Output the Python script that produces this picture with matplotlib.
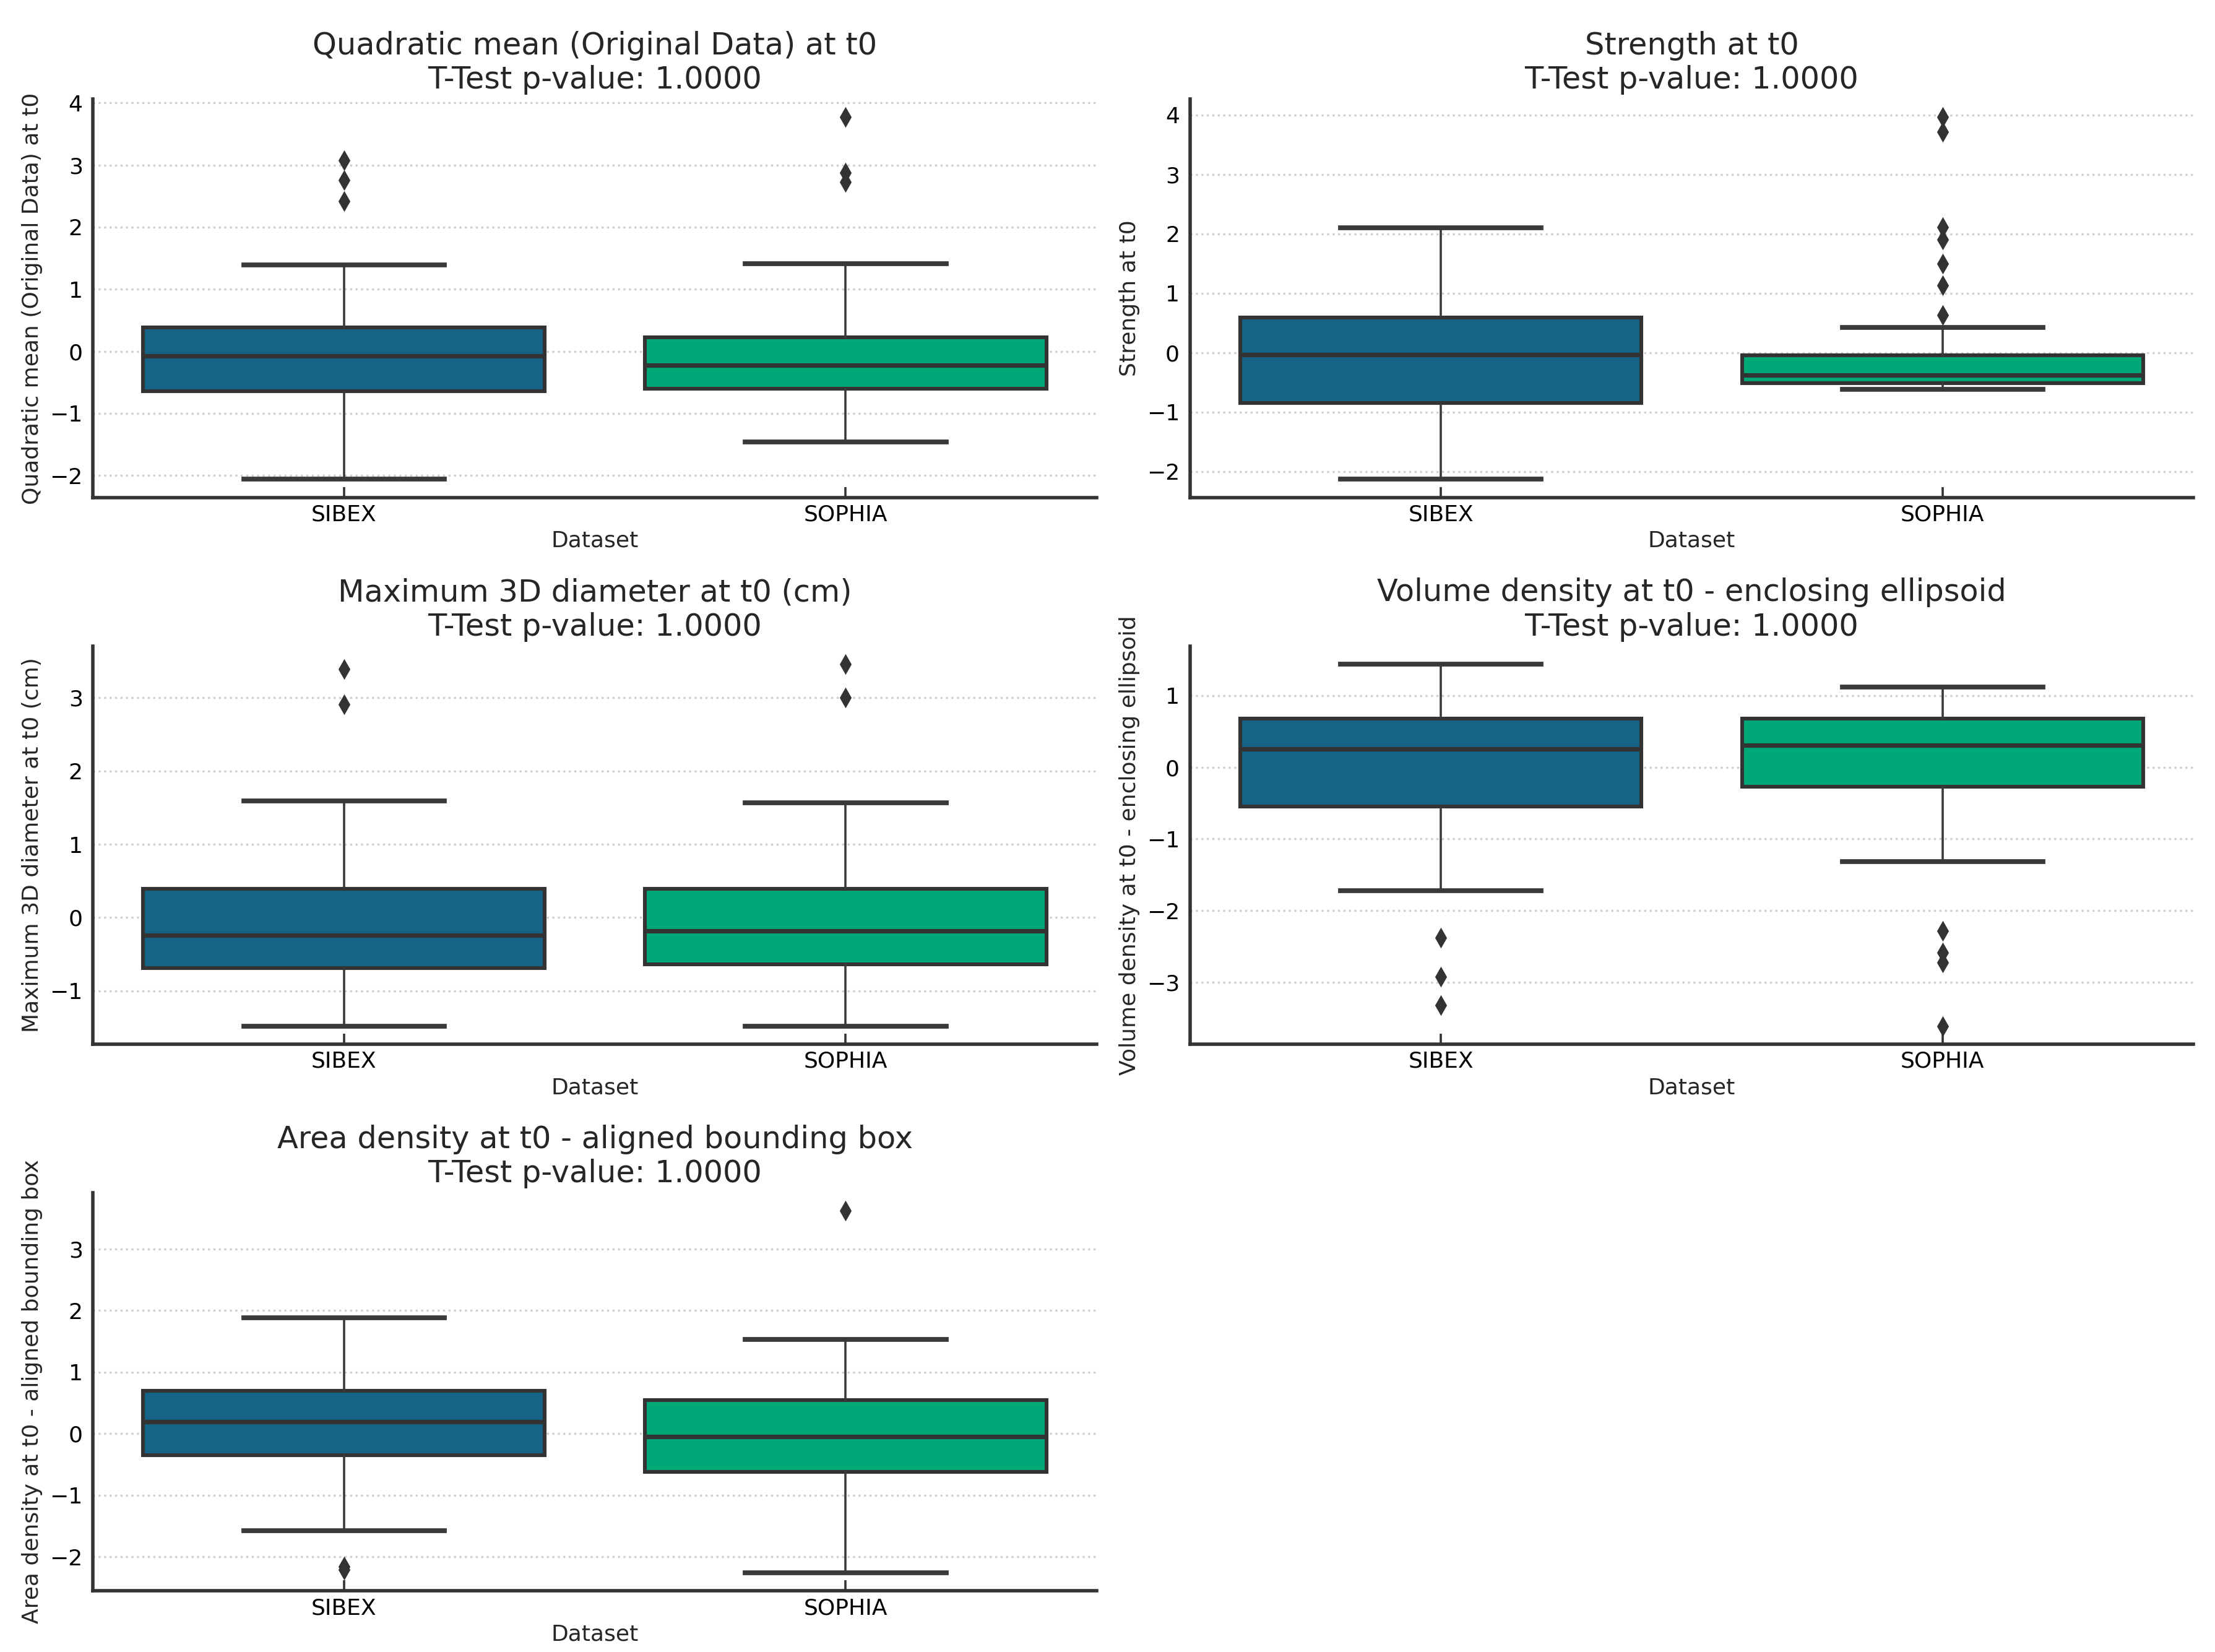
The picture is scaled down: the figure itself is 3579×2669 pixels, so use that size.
import matplotlib
matplotlib.use('Agg')
import matplotlib.pyplot as plt

plt.rcParams['font.family'] = ['DejaVu Sans']
plt.rcParams['text.color'] = '#262626'
plt.rcParams['axes.labelcolor'] = '#262626'

# 数据：箱线图统计量（SIBEX, SOPHIA）
datasets = ['SIBEX', 'SOPHIA']
box_colors = ['#156386', '#00a878']

titles = ['Quadratic mean (Original Data) at t0',
          'Strength at t0',
          'Maximum 3D diameter at t0 (cm)',
          'Volume density at t0 - enclosing ellipsoid',
          'Area density at t0 - aligned bounding box']
p_values = [1.0, 1.0, 1.0, 1.0, 1.0]

# Quadratic mean
quad_q1 = [-0.64, -0.60]
quad_med = [-0.075, -0.226]
quad_q3 = [0.38, 0.23]
quad_lo = [-2.06, -1.455]
quad_hi = [1.39, 1.41]
quad_fliers = [[3.08, 2.76, 2.42], [3.77, 2.875, 2.73]]

# Strength
str_q1 = [-0.85, -0.515]
str_med = [-0.03, -0.375]
str_q3 = [0.59, -0.04]
str_lo = [-2.13, -0.62]
str_hi = [2.10, 0.42]
str_fliers = [[], [3.96, 3.71, 2.11, 1.90, 1.50, 1.13, 0.63]]

# Maximum 3D diameter
diam_q1 = [-0.69, -0.64]
diam_med = [-0.24, -0.18]
diam_q3 = [0.39, 0.39]
diam_lo = [-1.48, -1.48]
diam_hi = [1.59, 1.57]
diam_fliers = [[3.39, 2.91], [3.46, 3.00]]

# Volume density
vol_q1 = [-0.545, -0.27]
vol_med = [0.255, 0.305]
vol_q3 = [0.675, 0.675]
vol_lo = [-1.725, -1.32]
vol_hi = [1.44, 1.115]
vol_fliers = [[-2.38, -2.92, -3.32], [-2.28, -2.585, -2.72, -3.61]]

# Area density
area_q1 = [-0.35, -0.62]
area_med = [0.19, -0.05]
area_q3 = [0.70, 0.54]
area_lo = [-1.58, -2.26]
area_hi = [1.88, 1.53]
area_fliers = [[-2.16, -2.21], [3.62]]

panels = [
    (quad_q1, quad_med, quad_q3, quad_lo, quad_hi, quad_fliers),
    (str_q1, str_med, str_q3, str_lo, str_hi, str_fliers),
    (diam_q1, diam_med, diam_q3, diam_lo, diam_hi, diam_fliers),
    (vol_q1, vol_med, vol_q3, vol_lo, vol_hi, vol_fliers),
    (area_q1, area_med, area_q3, area_lo, area_hi, area_fliers),
]

fig, axes = plt.subplots(3, 2, figsize=(17.9, 13.345), dpi=200)
fig.subplots_adjust(left=0.042, right=0.99, top=0.94, bottom=0.037,
                    wspace=0.093, hspace=0.373)
axes = axes.flatten()

for i, (q1, med, q3, lo, hi, fl) in enumerate(panels):
    ax = axes[i]
    stats = []
    for j in range(2):
        stats.append({'med': med[j], 'q1': q1[j], 'q3': q3[j],
                      'whislo': lo[j], 'whishi': hi[j],
                      'fliers': fl[j], 'label': datasets[j]})
    bp = ax.bxp(stats, positions=[0, 1], widths=0.8, capwidths=0.4,
                patch_artist=True,
                boxprops=dict(edgecolor='#333333', linewidth=2.2),
                medianprops=dict(color='#333333', linewidth=2.6),
                whiskerprops=dict(color='#3a3a3a', linewidth=1.3),
                capprops=dict(color='#3a3a3a', linewidth=2.8),
                flierprops=dict(marker='d', markerfacecolor='#333333',
                                markeredgecolor='#333333', markersize=7))
    for patch, c in zip(bp['boxes'], box_colors):
        patch.set_facecolor(c)

    ax.set_xlim(-0.5, 1.5)
    ax.set_axisbelow(True)
    ax.yaxis.grid(True, linestyle=':', color='#cfcfcf', linewidth=1.2)
    ax.xaxis.grid(False)
    ax.spines['top'].set_visible(False)
    ax.spines['right'].set_visible(False)
    for s in ['left', 'bottom']:
        ax.spines[s].set_color('#333333')
        ax.spines[s].set_linewidth(2)
    ax.tick_params(axis='x', direction='in', length=6, width=1.3,
                   color='#333333', labelsize=13, pad=4)
    ax.tick_params(axis='y', length=0, labelsize=13, pad=6)

    ax.set_title(titles[i] + '\nT-Test p-value: {:.4f}'.format(p_values[i]),
                 fontsize=17.8)
    ax.set_xlabel('Dataset', fontsize=13, labelpad=3)
    ax.set_ylabel(titles[i], fontsize=13)

axes[5].remove()

plt.savefig('out.png', dpi=200)
